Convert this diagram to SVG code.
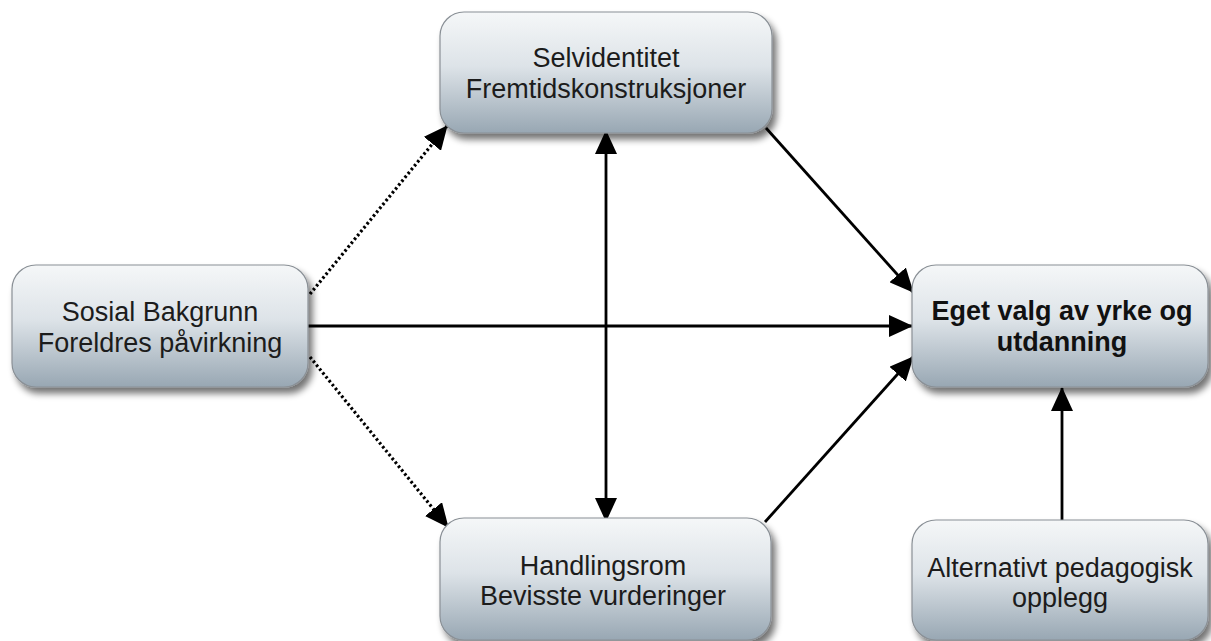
<svg xmlns="http://www.w3.org/2000/svg" width="1211" height="641" viewBox="0 0 1211 641">
  <defs>
    <linearGradient id="boxGrad" x1="0" y1="0" x2="0" y2="1">
      <stop offset="0" stop-color="#f5f7f8"/>
      <stop offset="0.45" stop-color="#dde3e8"/>
      <stop offset="1" stop-color="#98a7b3"/>
    </linearGradient>
    <filter id="shadow" x="-10%" y="-10%" width="125%" height="130%">
      <feGaussianBlur in="SourceAlpha" stdDeviation="3.5"/>
      <feOffset dx="4" dy="6" result="b"/>
      <feComponentTransfer><feFuncA type="linear" slope="0.55"/></feComponentTransfer>
      <feMerge><feMergeNode/><feMergeNode in="SourceGraphic"/></feMerge>
    </filter>
    <marker id="arrow" markerUnits="userSpaceOnUse" markerWidth="24" markerHeight="22" refX="23" refY="11" orient="auto-start-reverse" viewBox="0 0 24 22">
      <path d="M0,0 L24,11 L0,22 z" fill="#000"/>
    </marker>
    <style>
      .box { fill: url(#boxGrad); stroke: #8a9096; stroke-width: 1.2; filter: url(#shadow); }
      .lbl { font-family: "Liberation Sans", Arial, sans-serif; font-size: 27px; fill: #1c1c1c; text-anchor: middle; }
      .bold { font-weight: bold; fill: #111; }
      .conn { stroke: #000; stroke-width: 2.8; fill: none; }
      .dot { stroke-dasharray: 2.5 2.5; stroke-width: 3.2; }
    </style>
  </defs>

  <g id="connectors">
    <line class="conn dot" x1="310" y1="294" x2="447" y2="126" marker-end="url(#arrow)"/>
    <line class="conn dot" x1="310" y1="357" x2="448" y2="527" marker-end="url(#arrow)"/>
    <line class="conn" x1="308" y1="326" x2="912" y2="326" marker-end="url(#arrow)"/>
    <line class="conn" x1="606" y1="131" x2="606" y2="521" marker-start="url(#arrow)" marker-end="url(#arrow)"/>
    <line class="conn" x1="766" y1="128" x2="913" y2="292" marker-end="url(#arrow)"/>
    <line class="conn" x1="765" y1="522" x2="913" y2="357" marker-end="url(#arrow)"/>
    <line class="conn" x1="1062" y1="520" x2="1062" y2="388" marker-end="url(#arrow)"/>
  </g>

  <g id="node-selvidentitet">
    <rect class="box" x="440" y="12" width="332" height="121" rx="24"/>
    <text class="lbl" x="606" y="67">Selvidentitet</text>
    <text class="lbl" x="606" y="98">Fremtidskonstruksjoner</text>
  </g>

  <g id="node-sosial">
    <rect class="box" x="12" y="265" width="296" height="122" rx="24"/>
    <text class="lbl" x="160" y="321">Sosial Bakgrunn</text>
    <text class="lbl" x="160" y="352">Foreldres påvirkning</text>
  </g>

  <g id="node-eget">
    <rect class="box" x="912" y="265" width="296" height="122" rx="24"/>
    <text class="lbl bold" x="1062" y="320">Eget valg av yrke og</text>
    <text class="lbl bold" x="1062" y="351">utdanning</text>
  </g>

  <g id="node-handlingsrom">
    <rect class="box" x="440" y="518" width="331" height="122" rx="24"/>
    <text class="lbl" x="603" y="575">Handlingsrom</text>
    <text class="lbl" x="603" y="605">Bevisste vurderinger</text>
  </g>

  <g id="node-alternativt">
    <rect class="box" x="912" y="520" width="296" height="120" rx="24"/>
    <text class="lbl" x="1060" y="577">Alternativt pedagogisk</text>
    <text class="lbl" x="1060" y="607">opplegg</text>
  </g>
</svg>
